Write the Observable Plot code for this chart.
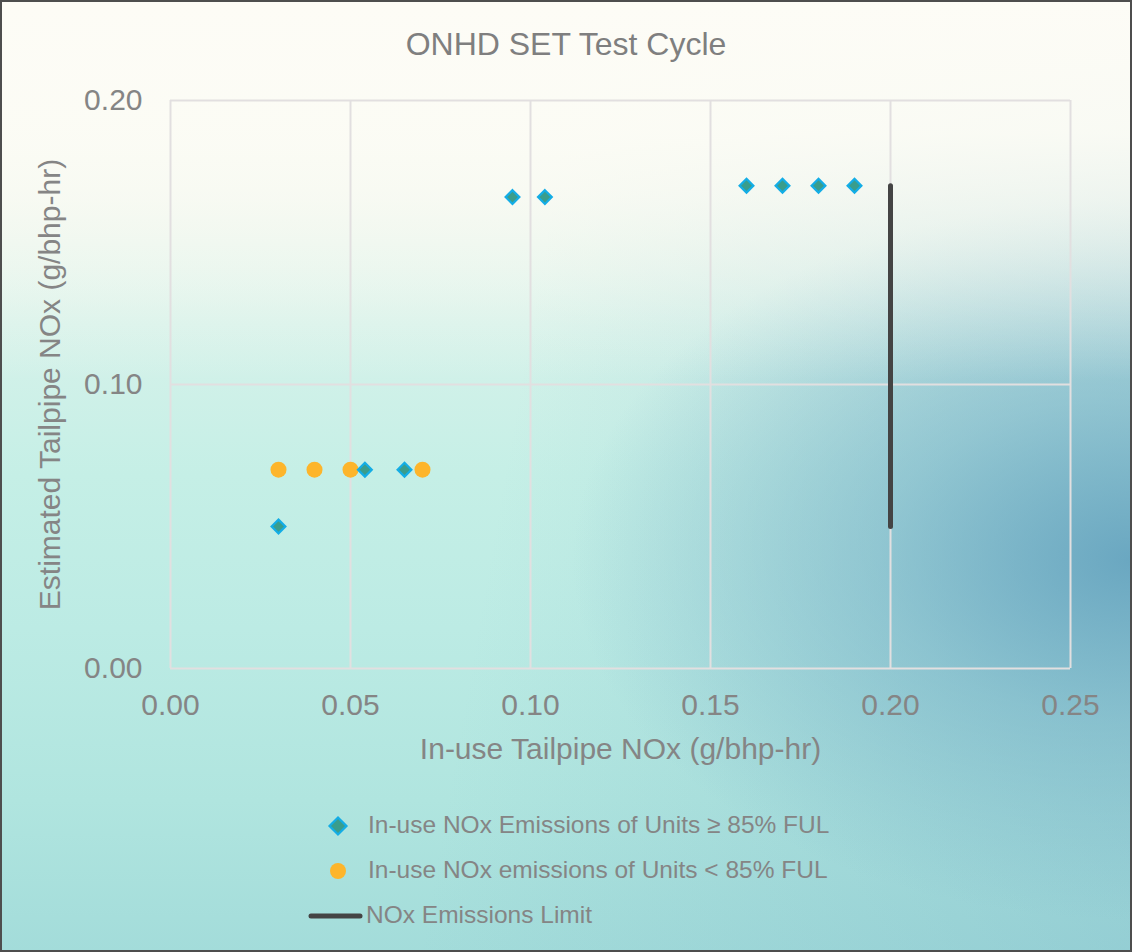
<!DOCTYPE html>
<html>
<head>
<meta charset="utf-8">
<script src="https://cdn.jsdelivr.net/npm/d3@7"></script>
<script src="https://cdn.jsdelivr.net/npm/@observablehq/plot@0.6"></script>
<style>
  html, body { margin: 0; padding: 0; }
  #chart {
    position: relative; width: 1132px; height: 952px; overflow: hidden;
    font-family: "Liberation Sans", Arial, sans-serif; color: #808080;
    background:
      linear-gradient(to bottom, rgba(253,252,246,1) 0%, rgba(252,252,245,0.92) 14%, rgba(248,250,242,0.55) 26%, rgba(240,248,240,0) 40%),
      radial-gradient(ellipse 560px 360px at 1132px 560px, rgba(95,158,188,0.85) 0%, rgba(110,170,195,0.5) 45%, rgba(130,185,205,0) 100%),
      linear-gradient(100deg, rgba(0,0,0,0) 45%, rgba(120,180,200,0.35) 100%),
      linear-gradient(to bottom, #fdfcf7 0%, #f1f7ef 20%, #d6f2ea 34%, #c5efe6 50%, #bcebe4 66%, #b0e5df 84%, #a3dcda 100%);
    box-shadow: inset 0 0 0 2px #4e4e4e;
  }
  #title { position: absolute; left: 0; width: 1132px; top: 26px; text-align: center; font-size: 32px; color: #7f7f7f; }
  #plot { position: absolute; left: 0; top: 0; }
  .leg { position: absolute; font-size: 24.5px; color: #858585; white-space: nowrap; }
</style>
</head>
<body>
<div id="chart">
  <div id="title">ONHD SET Test Cycle</div>
  <div id="plot"></div>
  <svg id="legsvg" width="1132" height="952" style="position:absolute;left:0;top:0;pointer-events:none"></svg>
  <div class="leg" style="left:368px; top:811px;">In-use NOx Emissions of Units ≥ 85% FUL</div>
  <div class="leg" style="left:368px; top:856px;">In-use NOx emissions of Units &lt; 85% FUL</div>
  <div class="leg" style="left:366px; top:901px;">NOx Emissions Limit</div>
</div>
<script>
// Series: units >= 85% FUL (diamonds)
const fulHighX = [0.03, 0.054, 0.065, 0.095, 0.104, 0.16, 0.17, 0.18, 0.19];
const fulHighY = [0.05, 0.07, 0.07, 0.166, 0.166, 0.17, 0.17, 0.17, 0.17];
// Series: units < 85% FUL (circles)
const fulLowX = [0.03, 0.04, 0.05, 0.07];
const fulLowY = [0.07, 0.07, 0.07, 0.07];
// NOx emissions limit line
const limitX = [0.20, 0.20];
const limitY = [0.05, 0.17];
// Ticks
const xTicks = [0, 0.05, 0.10, 0.15, 0.20, 0.25];
const yTicks = [0, 0.10, 0.20];

const high = fulHighX.map((x, i) => ({x, y: fulHighY[i]}));
const low = fulLowX.map((x, i) => ({x, y: fulLowY[i]}));
const limit = limitX.map((x, i) => ({x, y: limitY[i]}));

const gridColor = "#e2dfe0";
const chart = Plot.plot({
  width: 1132,
  height: 800,
  marginLeft: 170,
  marginRight: 62,
  marginTop: 100,
  marginBottom: 132,
  style: { background: "transparent", fontFamily: "Liberation Sans, Arial, sans-serif", fontSize: "30px", color: "#858585", overflow: "visible" },
  x: { domain: [0, 0.25], ticks: xTicks, tickFormat: d3.format(".2f") },
  y: { domain: [0, 0.20], ticks: yTicks, tickFormat: d3.format(".2f") },
  marks: [
    Plot.gridX(xTicks, { stroke: gridColor, strokeOpacity: 1, strokeWidth: 2 }),
    Plot.gridY(yTicks, { stroke: gridColor, strokeOpacity: 1, strokeWidth: 2 }),
    Plot.axisX(xTicks, { tickSize: 0, tickPadding: 25, fill: "#858585", fontSize: 30, tickFormat: d3.format(".2f"),
      label: "In-use Tailpipe NOx (g/bhp-hr)", labelAnchor: "center", labelArrow: "none", labelOffset: 90 }),
    Plot.axisY(yTicks, { tickSize: 0, tickPadding: 28, fill: "#858585", fontSize: 30, tickFormat: d3.format(".2f"),
      label: "Estimated Tailpipe NOx (g/bhp-hr)", labelAnchor: "center", labelArrow: "none", labelOffset: 132 }),
    Plot.line(limit, { x: "x", y: "y", stroke: "#444444", strokeWidth: 5, strokeLinecap: "round" }),
    Plot.dot(low, { x: "x", y: "y", r: 8, fill: "#fdb52b", stroke: "none" }),
    Plot.dot(high, { x: "x", y: "y", r: 6.2, symbol: "diamond2", fill: "#3a9d8c", stroke: "#13ade6", strokeWidth: 2.2 })
  ]
});
document.getElementById("plot").appendChild(chart);

// legend swatches
const ls = d3.select("#legsvg");
const s = 8.5;
ls.append("path").attr("d", `M338,${826 - s}L${338 + s},826L338,${826 + s}L${338 - s},826Z`)
  .attr("fill", "#3a9d8c").attr("stroke", "#13ade6").attr("stroke-width", 2.2);
ls.append("circle").attr("cx", 338).attr("cy", 871).attr("r", 8).attr("fill", "#fdb52b");
ls.append("line").attr("x1", 311).attr("x2", 360).attr("y1", 916).attr("y2", 916)
  .attr("stroke", "#444").attr("stroke-width", 5).attr("stroke-linecap", "round");
</script>
</body>
</html>
